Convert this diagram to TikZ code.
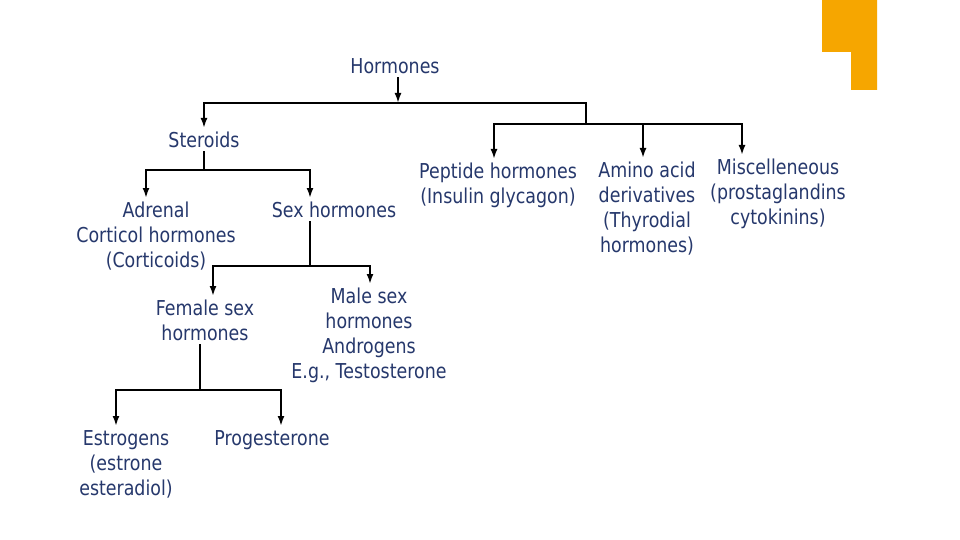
\documentclass[tikz,border=0pt]{standalone}
\usepackage{fontspec}
\newfontfamily\slidefont[FakeStretch=0.85]{DejaVu Sans}
\usepackage{tikz}
\usetikzlibrary{arrows.meta}
\definecolor{textblue}{RGB}{38,56,108}
\definecolor{slideorange}{RGB}{246,166,0}

\begin{document}
\begin{tikzpicture}
[x=1pt,y=-1pt,
 term/.style={anchor=north,align=center,inner sep=4pt,text=textblue,
    font=\slidefont\fontsize{20.5}{25}\selectfont},
 link/.style={draw=black,line width=2pt,line cap=rect},
 arr/.style={link,-{Latex[length=10pt,width=7pt]}}]
\fill[white] (0,0) rectangle (960,540);
\useasboundingbox (0,0) rectangle (960,540);
\fill[slideorange] (822,0) -- (877,0) -- (877,90) -- (851,90) -- (851,52)
  -- (822,52) -- cycle;

\node[term] (horm) at (395,54) {Hormones};
\node[term] (ster) at (204,128) {Steroids};
\node[term] (pept) at (498,159) {Peptide hormones\\(Insulin glycagon)};
\node[term] (amino) at (647,158) {Amino acid\\derivatives\\(Thyrodial\\hormones)};
\node[term] (misc) at (778,155) {Miscelleneous\\(prostaglandins\\cytokinins)};
\node[term] (adr) at (156,198) {Adrenal\\Corticol hormones\\(Corticoids)};
\node[term] (sexh) at (334,198) {Sex hormones};
\node[term] (fem) at (205,296) {Female sex\\hormones};
\node[term] (male) at (369,284) {Male sex\\hormones\\Androgens\\E.g., Testosterone};
\node[term] (estr) at (126,426) {Estrogens\\(estrone\\esteradiol)};
\node[term] (prog) at (272,426) {Progesterone};

\coordinate (h0) at (398,103);
\coordinate (h1) at (204,103);
\coordinate (h2) at (586,103);
\coordinate (p0) at (586,124);
\coordinate (p1) at (494,124);
\coordinate (p2) at (643,124);
\coordinate (p3) at (742,124);
\coordinate (s0) at (204,170);
\coordinate (s1) at (146,170);
\coordinate (s2) at (310,170);
\coordinate (x0) at (310,266);
\coordinate (x1) at (213,266);
\coordinate (x2) at (370,266);
\coordinate (f0) at (200,390);
\coordinate (f1) at (116,390);
\coordinate (f2) at (281,390);

\draw [arr] (horm.south -| h0) -- (h0);
\draw [link] (h1) -- (h2);
\draw [arr] (h1) -- (h1 |- ster.north);
\draw [link] (h2) -- (p0);
\draw [link] (p1) -- (p3);
\draw [arr] (p1) -- (p1 |- pept.north);
\draw [arr] (p2) -- (p2 |- amino.north);
\draw [arr] (p3) -- (p3 |- misc.north);

\draw [link] (ster.south -| s0) -- (s0);
\draw [link] (s1) -- (s2);
\draw [arr] (s1) -- (s1 |- adr.north);
\draw [arr] (s2) -- (s2 |- sexh.north);

\draw [link] (sexh.south -| x0) -- (x0);
\draw [link] (x1) -- (x2);
\draw [arr] (x1) -- (x1 |- fem.north);
\draw [arr] (x2) -- (x2 |- male.north);

\draw [link] (fem.south -| f0) -- (f0);
\draw [link] (f1) -- (f2);
\draw [arr] (f1) -- (f1 |- estr.north);
\draw [arr] (f2) -- (f2 |- prog.north);
\end{tikzpicture}
\end{document}
